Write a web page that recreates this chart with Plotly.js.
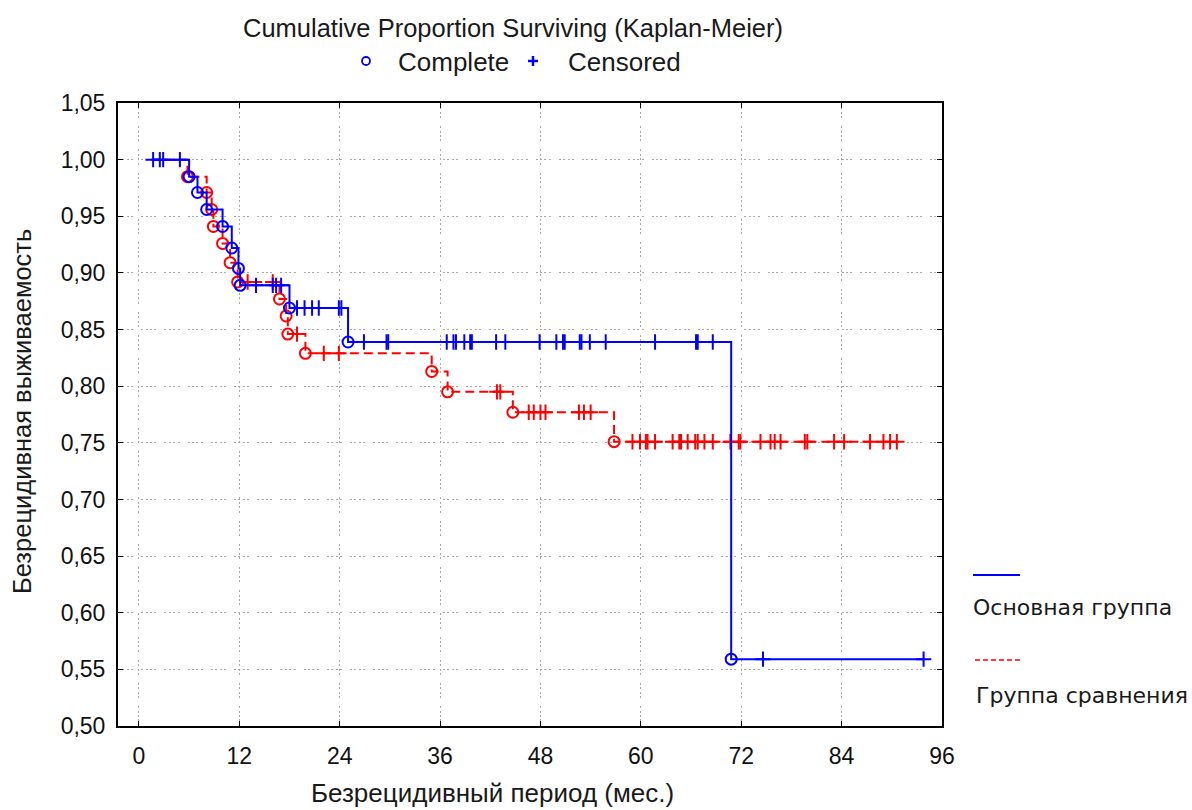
<!DOCTYPE html>
<html><head><meta charset="utf-8">
<script src="https://cdn.plot.ly/plotly-3.0.1.min.js"></script>
<style>html,body{margin:0;padding:0;background:#fff}</style>
</head><body>
<div id="chart" style="width:1192px;height:810px"></div>
<script>
// ---- Data ----
// Основная группа (main group)
const mainStart = 1.5;
const mainEventTimes = [6.0, 7.0, 8.1, 10.0, 11.1, 11.9, 12.1, 18.0, 25.0, 70.8];
const mainEventSurv  = [0.985, 0.971, 0.956, 0.941, 0.922, 0.904, 0.889, 0.869, 0.839, 0.559];
const mainCensoredTimes = [1.7, 2.5, 2.9, 4.9,
  14.0, 16.0, 16.4, 17.0,
  18.9, 19.8, 20.7, 21.5, 23.9, 24.2,
  26.9, 29.6, 29.8, 36.8, 37.6, 37.9, 38.9, 39.6, 39.8, 42.7, 43.8, 47.9, 49.9, 50.7, 50.9,
  52.7, 52.9, 53.9, 55.8, 61.7, 66.6, 66.8, 68.6,
  74.6, 93.8];
// Группа сравнения (comparison group)
const compStart = 1.5;
const compEventTimes = [5.8, 8.1, 8.7, 8.9, 10.0, 10.9, 11.8, 16.8, 17.6, 17.8, 19.9, 35.0, 36.9, 44.7, 56.8];
const compEventSurv  = [0.985, 0.971, 0.956, 0.941, 0.926, 0.909, 0.892, 0.877, 0.862, 0.846, 0.829, 0.813, 0.795, 0.777, 0.751];
const compCensoredTimes = [13.0, 16.0, 18.9, 22.1, 23.9, 42.8, 43.2,
  46.6, 47.2, 48.0, 48.6, 52.6, 53.2, 54.0,
  59.0, 59.9, 60.6, 60.8, 61.7, 63.8, 64.6, 64.8, 65.6, 66.5, 66.8, 67.6, 68.6, 70.7,
  71.7, 71.9, 74.3, 75.5, 76.0, 76.7, 79.6, 79.9, 83.1, 84.3, 87.4, 89.0, 89.8, 90.6];

const xTickVals = [0, 12, 24, 36, 48, 60, 72, 84, 96];
const yTickVals = [0.50, 0.55, 0.60, 0.65, 0.70, 0.75, 0.80, 0.85, 0.90, 0.95, 1.00, 1.05];

const mainName = 'Основная группа';
const compName = 'Группа сравнения';
const titleText = 'Cumulative Proportion Surviving (Kaplan-Meier)';
const xTitle = 'Безрецидивный период (мес.)';
const yTitle = 'Безрецидивная выживаемость';

// ---- helpers ----
function survAt(t, evT, evS) {
  let s = 1;
  for (let i = 0; i < evT.length; i++) if (evT[i] <= t) s = evS[i];
  return s;
}
function stepLine(start, evT, evS, cenT) {
  const end = Math.max(...evT, ...cenT);
  const x = [start], y = [1];
  for (let i = 0; i < evT.length; i++) { x.push(evT[i]); y.push(evS[i]); }
  x.push(end); y.push(evS[evS.length - 1]);
  return {x, y};
}

const BLUE = 'rgb(0,0,255)';
const RED = 'rgb(255,0,0)';

function groupTraces(start, evT, evS, cenT, color, dash, name) {
  const st = stepLine(start, evT, evS, cenT);
  return [
    {type: 'scatter', mode: 'lines', x: st.x, y: st.y, name: name,
     line: {shape: 'hv', color: color, width: 2, dash: dash}, showlegend: false, hoverinfo: 'skip'},
    {type: 'scatter', mode: 'markers', x: cenT, y: cenT.map(t => survAt(t, evT, evS)),
     marker: {symbol: 'cross-thin-open', size: 11, color: color, line: {color: color, width: 2}},
     showlegend: false, hoverinfo: 'skip'},
    {type: 'scatter', mode: 'markers', x: evT, y: evS,
     marker: {symbol: 'circle-open', size: 11, color: color, line: {color: color, width: 2}},
     showlegend: false, hoverinfo: 'skip'}
  ];
}

const traces = [
  ...groupTraces(compStart, compEventTimes, compEventSurv, compCensoredTimes, RED, '9px,5px', compName),
  ...groupTraces(mainStart, mainEventTimes, mainEventSurv, mainCensoredTimes, BLUE, 'solid', mainName)
];

// pixel -> paper helpers for decorations
const L = 118, R = 942, T = 103, B = 726;
const px = v => (v - L) / (R - L);
const py = v => (B - v) / (B - T);

const gridDash = '2px,2.4px,2px,2.4px,2px,2.4px,2px,8px';
const axisCommon = {
  showline: true, linecolor: '#000', linewidth: 2, mirror: 'ticks',
  ticks: 'inside', ticklen: 5, tickwidth: 1, tickcolor: '#000',
  showgrid: true, gridcolor: '#a8a8a8', gridwidth: 1, griddash: gridDash,
  zeroline: false, fixedrange: true,
  tickfont: {family: 'Liberation Sans, Arial, sans-serif', size: 23, color: '#111'}
};

const fam = 'Liberation Sans, Arial, sans-serif';
const titleFont = {family: fam, size: 25.5, color: '#1a1a1a'};
const headFont = {family: fam, size: 26, color: '#1a1a1a'};
const xTitleFont = {family: fam, size: 26, color: '#1a1a1a'};
const yTitleFont = {family: fam, size: 25.5, color: '#1a1a1a'};
const legFont = {family: 'DejaVu Sans, Verdana, sans-serif', size: 22, color: '#1a1a1a'};

const layout = {
  width: 1192, height: 810,
  paper_bgcolor: '#fff', plot_bgcolor: '#fff',
  separators: ', ',
  margin: {l: L, r: 1192 - R, t: T, b: 810 - B, pad: 0},
  title: {text: titleText, font: titleFont, xref: 'container', yref: 'container',
          x: 513 / 1192, y: 1 - 28 / 810, xanchor: 'center', yanchor: 'middle'},
  xaxis: Object.assign({}, axisCommon, {range: [-2.5, 96], tickvals: xTickVals,
          ticktext: xTickVals.map(String), ticklabelstandoff: 8}),
  yaxis: Object.assign({}, axisCommon, {range: [0.5, 1.05], tickvals: yTickVals,
          tickformat: '.2f', ticklabelstandoff: 6}),
  showlegend: false,
  hovermode: false,
  shapes: [
    // header symbols
    {type: 'circle', xref: 'paper', yref: 'paper', x0: px(362), x1: px(370), y0: py(65), y1: py(57),
     line: {color: BLUE, width: 1.8}},
    {type: 'line', xref: 'paper', yref: 'paper', x0: px(528), x1: px(538), y0: py(61), y1: py(61),
     line: {color: BLUE, width: 2.5}},
    {type: 'line', xref: 'paper', yref: 'paper', x0: px(533), x1: px(533), y0: py(56), y1: py(66),
     line: {color: BLUE, width: 2.5}},
    // right legend lines
    {type: 'line', xref: 'paper', yref: 'paper', x0: px(973), x1: px(1020), y0: py(575), y1: py(575),
     line: {color: BLUE, width: 2}},
    {type: 'line', xref: 'paper', yref: 'paper', x0: px(975), x1: px(1023), y0: py(660), y1: py(660),
     line: {color: RED, width: 1.5, dash: '5px,3px'}}
  ],
  annotations: [
    {text: 'Complete', xref: 'paper', yref: 'paper', x: px(396), y: py(62), xanchor: 'left', yanchor: 'middle',
     showarrow: false, font: headFont},
    {text: 'Censored', xref: 'paper', yref: 'paper', x: px(566), y: py(62), xanchor: 'left', yanchor: 'middle',
     showarrow: false, font: headFont},
    {text: mainName, xref: 'paper', yref: 'paper', x: px(971), y: py(607), xanchor: 'left', yanchor: 'middle',
     showarrow: false, font: legFont},
    {text: compName, xref: 'paper', yref: 'paper', x: px(974), y: py(695), xanchor: 'left', yanchor: 'middle',
     showarrow: false, font: legFont},
    {text: xTitle, xref: 'paper', yref: 'paper', x: px(492), y: py(793), xanchor: 'center', yanchor: 'middle',
     showarrow: false, font: xTitleFont},
    {text: yTitle, xref: 'paper', yref: 'paper', x: px(22), y: py(412), xanchor: 'center', yanchor: 'middle',
     textangle: -90, showarrow: false, font: yTitleFont}
  ]
};

Plotly.newPlot('chart', traces, layout, {staticPlot: true, displayModeBar: false});
</script>
</body></html>
